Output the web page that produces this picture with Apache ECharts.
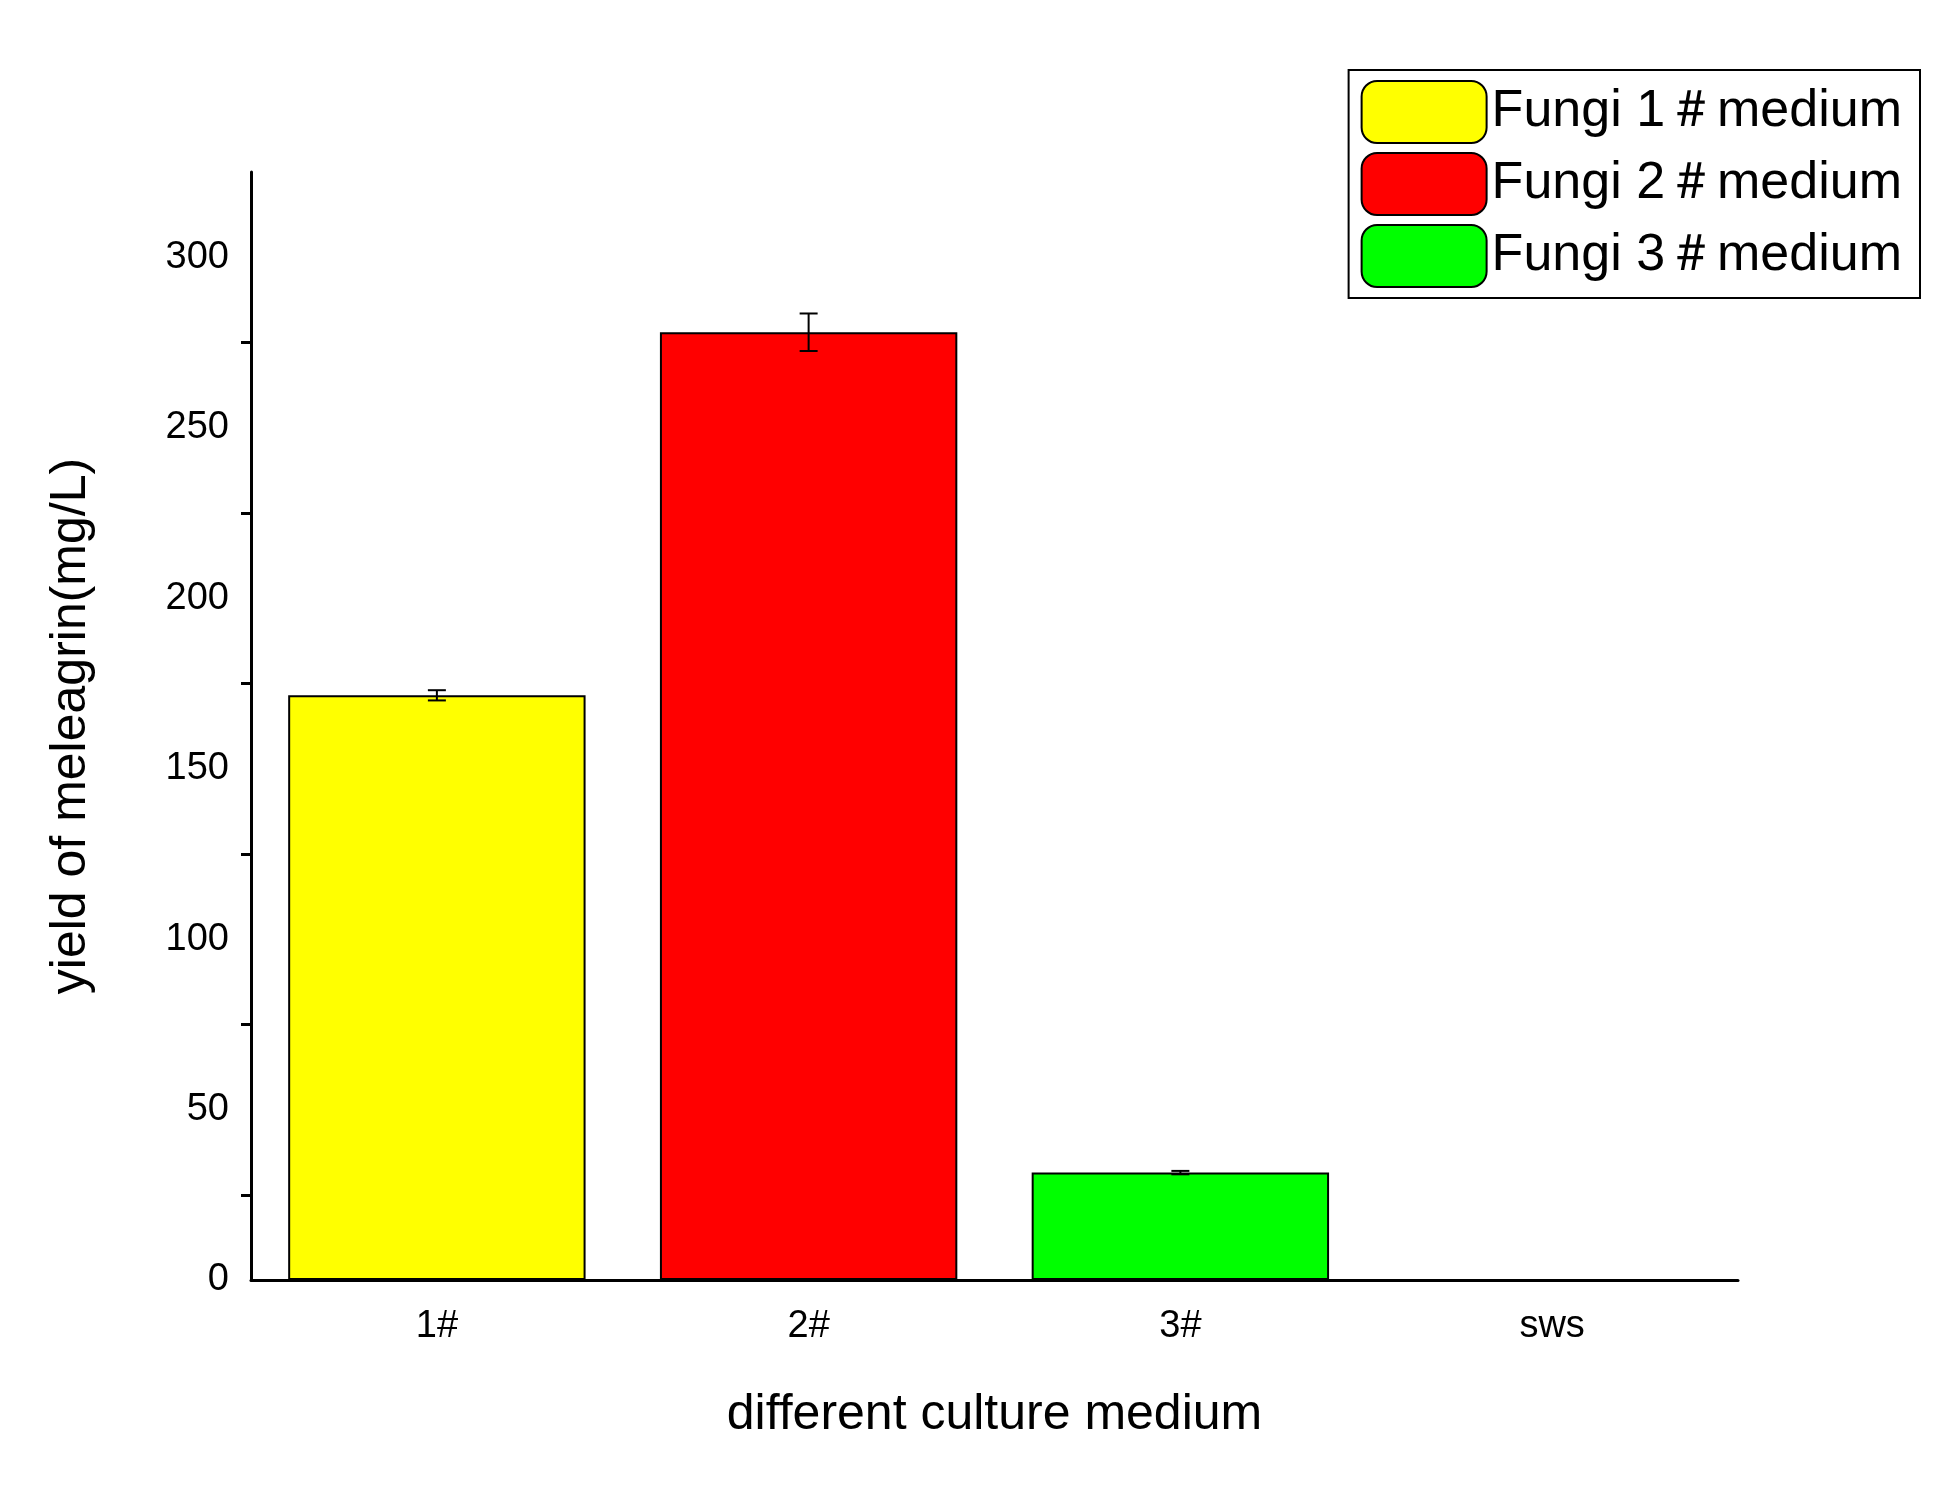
<!DOCTYPE html>
<html>
<head>
<meta charset="utf-8">
<script src="https://cdn.jsdelivr.net/npm/echarts@6/dist/echarts.min.js"></script>
<style>html,body{margin:0;background:#fff}#chart{width:1957px;height:1490px}</style>
</head>
<body>
<div id="chart"></div>
<script>
// data
var categories = ['1#', '2#', '3#', 'sws'];
var seriesNames = ['Fungi 1\uFF03medium', 'Fungi 2\uFF03medium', 'Fungi 3\uFF03medium'];
var seriesColors = ['#ffff00', '#ff0000', '#00ff00'];
var yields = [171.5, 278, 31.5, 0];
var errors = [1.5, 5.5, 0.5, 0];

var myChart = echarts.init(document.getElementById('chart'));
var font = 'Arial, "Liberation Sans", sans-serif';

var series = seriesNames.map(function (name, i) {
    var d = categories.map(function (c, j) { return j === i ? yields[j] : '-'; });
    return {
        name: name,
        type: 'bar',
        stack: 'all',
        barWidth: '80%',
        data: d,
        itemStyle: { color: seriesColors[i], borderColor: '#000', borderWidth: 2 }
    };
});

// error bars
series.push({
    type: 'custom',
    silent: true,
    z: 10,
    data: categories.map(function (c, j) { return [j, yields[j] - errors[j], yields[j] + errors[j]]; }),
    renderItem: function (params, api) {
        if (api.value(2) - api.value(1) <= 0) return;
        var lo = api.coord([api.value(0), api.value(1)]);
        var hi = api.coord([api.value(0), api.value(2)]);
        var x = lo[0], w = 9;
        var st = { stroke: '#000', lineWidth: 2 };
        return {
            type: 'group',
            children: [
                { type: 'line', shape: { x1: x, y1: lo[1], x2: x, y2: hi[1] }, style: st },
                { type: 'line', shape: { x1: x - w, y1: lo[1], x2: x + w, y2: lo[1] }, style: st },
                { type: 'line', shape: { x1: x - w, y1: hi[1], x2: x + w, y2: hi[1] }, style: st }
            ]
        };
    }
});

var option = {
    animation: false,
    backgroundColor: '#fff',
    grid: { left: 251, right: 219, top: 172, bottom: 210 },
    legend: {
        data: seriesNames,
        orient: 'vertical',
        right: 37,
        top: 70,
        itemWidth: 125,
        itemHeight: 62,
        itemGap: 8,
        padding: [10, 18, 10, 12],
        borderColor: '#000',
        borderWidth: 2,
        textStyle: { fontSize: 52, fontFamily: font, color: '#000' },
        itemStyle: { borderColor: '#000', borderWidth: 2 }
    },
    xAxis: [
        {
            type: 'category',
            data: categories,
            name: 'different culture medium',
            nameLocation: 'middle',
            nameGap: 110,
            nameTextStyle: { fontSize: 50, fontFamily: font, color: '#000' },
            axisLine: { lineStyle: { color: '#000', width: 3 } },
            axisTick: { alignWithLabel: true, length: 18, lineStyle: { color: '#000', width: 3 } },
            axisLabel: { fontSize: 38, fontFamily: font, color: '#000', margin: 28 }
        },
        {
            type: 'category',
            data: categories,
            position: 'bottom',
            axisLine: { show: false },
            axisTick: { length: 10, lineStyle: { color: '#000', width: 3 } },
            axisLabel: { show: false }
        }
    ],
    yAxis: {
        type: 'value',
        min: 0,
        max: 325,
        interval: 50,
        name: 'yield of meleagrin(mg/L)',
        nameLocation: 'middle',
        nameGap: 155,
        nameTextStyle: { fontSize: 50, fontFamily: font, color: '#000' },
        splitLine: { show: false },
        axisLine: { show: true, lineStyle: { color: '#000', width: 3 } },
        axisTick: { length: 18, lineStyle: { color: '#000', width: 3 } },
        minorTick: { show: true, splitNumber: 2, length: 10, lineStyle: { color: '#000', width: 3 } },
        axisLabel: { fontSize: 38, fontFamily: font, color: '#000', margin: 22, showMaxLabel: false }
    },
    series: series
};

myChart.setOption(option);
</script>
</body>
</html>
